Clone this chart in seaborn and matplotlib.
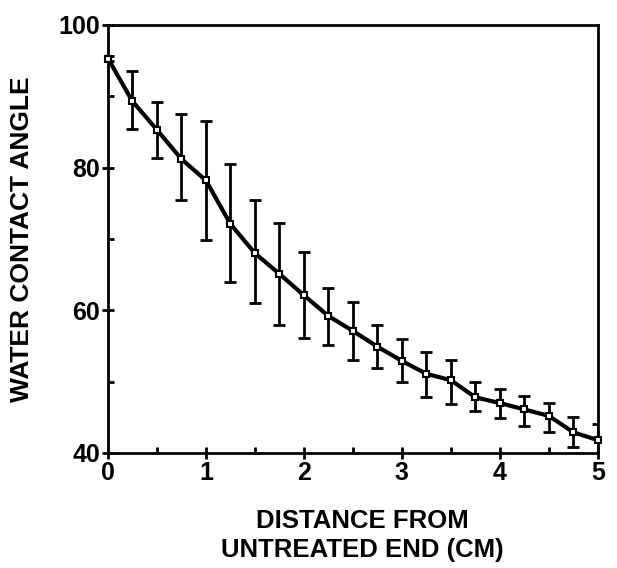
import matplotlib
matplotlib.use("Agg")
import matplotlib.pyplot as plt
import numpy as np
import pandas as pd
import seaborn as sns
from matplotlib.ticker import MultipleLocator

# distance from untreated end (cm) and water contact angle
distance = [0, 0.25, 0.5, 0.75, 1.0, 1.25, 1.5, 1.75, 2.0, 2.25, 2.5,
            2.75, 3.0, 3.25, 3.5, 3.75, 4.0, 4.25, 4.5, 4.75, 5.0]
angle = [95.3, 89.3, 85.3, 81.2, 78.2, 72.1, 68.0, 65.1, 62.1, 59.2, 57.1,
         54.9, 52.9, 51.1, 50.2, 47.8, 47.0, 46.1, 45.2, 42.9, 41.8]
err_low = [95.0, 85.4, 81.4, 75.4, 69.9, 64.0, 61.0, 58.0, 56.1, 55.1, 53.0,
           51.9, 49.9, 47.9, 46.8, 45.9, 44.9, 43.8, 42.9, 40.9, 39.8]
err_high = [95.6, 93.6, 89.2, 87.5, 86.5, 80.5, 75.4, 72.2, 68.2, 63.1, 61.1,
            58.0, 56.0, 54.1, 53.0, 50.0, 49.0, 48.0, 47.0, 45.0, 44.0]

df = pd.DataFrame({"distance": distance, "angle": angle})

sns.set_theme(style="ticks")
plt.rcParams['font.family'] = ['Liberation Sans', 'DejaVu Sans']
plt.rcParams['font.weight'] = 'bold'
plt.rcParams['text.color'] = 'black'
plt.rcParams['axes.labelcolor'] = 'black'
plt.rcParams['xtick.color'] = 'black'
plt.rcParams['ytick.color'] = 'black'

fig = plt.figure(figsize=(6.17, 5.68), dpi=100)
ax = fig.add_axes([0.175, 0.2025, 0.794, 0.7535])

yerr = [np.array(angle) - np.array(err_low), np.array(err_high) - np.array(angle)]
ax.errorbar(distance, angle, yerr=yerr, fmt='none', ecolor='black',
            elinewidth=2, capsize=4, capthick=2, zorder=2)
sns.lineplot(data=df, x="distance", y="angle", ax=ax, color='black',
             linewidth=3, marker='s', markersize=5, markerfacecolor='white',
             markeredgecolor='black', markeredgewidth=1.5, zorder=3, clip_on=False)

ax.set_xlim(0, 5)
ax.set_ylim(40, 100)
ax.xaxis.set_major_locator(MultipleLocator(1))
ax.xaxis.set_minor_locator(MultipleLocator(0.5))
ax.yaxis.set_major_locator(MultipleLocator(20))
ax.yaxis.set_minor_locator(MultipleLocator(10))
ax.tick_params(which='major', direction='inout', length=9, width=2,
               labelsize=18, pad=1, colors='black')
ax.tick_params(which='minor', direction='in', length=4, width=2)
for lab in ax.get_xticklabels() + ax.get_yticklabels():
    lab.set_fontweight('bold')

for s in ax.spines.values():
    s.set_linewidth(2)
    s.set_color('black')

ax.set_xlabel("DISTANCE FROM\nUNTREATED END (CM)", fontsize=18.5,
              fontweight='bold', linespacing=1.3)
ax.xaxis.set_label_coords(0.52, -0.13, transform=ax.transAxes)
ax.xaxis.label.set_va('top')
ax.set_ylabel("WATER CONTACT ANGLE", fontsize=19, fontweight='bold', labelpad=18)

fig.savefig("out.png", dpi=100)
